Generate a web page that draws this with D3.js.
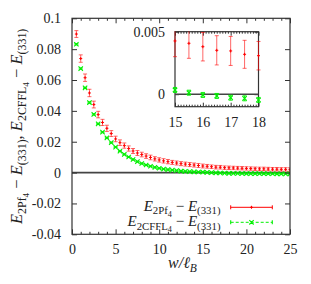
<!DOCTYPE html>
<html><head><meta charset="utf-8">
<script src="https://cdn.jsdelivr.net/npm/d3@7"></script>
<style>
html,body{margin:0;padding:0;background:#fff;}
svg{display:block;}
</style></head><body>
<svg id="chart" width="311" height="284"></svg>
<script>
// ---------------- data ----------------
const wValues = [0.5,1,1.5,2,2.5,3,3.5,4,4.5,5,5.5,6,6.5,7,7.5,8,8.5,9,9.5,10,
  10.5,11,11.5,12,12.5,13,13.5,14,14.5,15,15.5,16,16.5,17,17.5,18,18.5,19,19.5,20,
  20.5,21,21.5,22,22.5,23,23.5,24,24.5,25];
const redValues = [0.0898,0.0739,0.0615,0.0516,0.0441,0.0376,0.0325,0.0287,0.0253,0.0218,
  0.0194,0.0175,0.0156,0.0140,0.0127,0.0117,0.0107,0.0098,0.0089,0.0082,
  0.0076,0.0071,0.0066,0.0062,0.0058,0.0055,0.0052,0.0049,0.0046,0.00426,
  0.00407,0.0038,0.00351,0.00346,0.00319,0.00308,0.0030,0.0029,0.0028,0.0027,
  0.0026,0.0025,0.0024,0.0024,0.0023,0.0022,0.0022,0.0021,0.0021,0.0020];
const redErrors = [0.0022,0.0024,0.0024,0.0024,0.0022,0.0021,
  0.0020,0.0020,0.0019,0.0018,0.0018,0.0017,
  0.0017,0.0016,0.0016,0.0015,0.0015,0.0015,0.0014,0.0014,
  0.0014,0.0014,0.0013,0.0013,0.0013,0.0013,0.0013,0.0013,0.0013,0.00126,
  0.0012,0.00114,0.00117,0.00116,0.00112,0.00114,0.0011,0.0011,0.0011,0.0011,
  0.0011,0.0011,0.0011,0.0011,0.0011,0.0011,0.0011,0.0011,0.0011,0.0011];
const greenValues = [0.0832,0.0674,0.0549,0.0454,0.0377,0.0316,0.0262,0.0225,0.0194,0.0165,
  0.0139,0.0118,0.0101,0.0085,0.0071,0.0059,0.0049,0.0041,0.0034,0.0028,
  0.0023,0.0019,0.0016,0.0013,0.0010,0.0008,0.0006,0.0005,0.0004,0.00034,
  0.00012,-0.00006,-0.00014,-0.00028,-0.00033,-0.00046,-0.0005,-0.00055,-0.0006,-0.00062,
  -0.00065,-0.00067,-0.0007,-0.00072,-0.00074,-0.00076,-0.00078,-0.0008,-0.00081,-0.00082];
const greenErrors = [0.0004,0.0004,0.0004,0.0004,0.0004,0.00035,0.00035,0.00035,0.0003,0.0003,
  0.0003,0.0003,0.0003,0.0003,0.0003,0.00025,0.00025,0.00025,0.00025,0.00025,
  0.00025,0.00025,0.00025,0.00025,0.00025,0.0002,0.0002,0.0002,0.0002,0.0002,
  0.0002,0.0002,0.0002,0.0002,0.0002,0.0002,0.0002,0.0002,0.0002,0.0002,
  0.0002,0.0002,0.0002,0.0002,0.0002,0.0002,0.0002,0.0002,0.0002,0.0002];

const xTickValues = [0,5,10,15,20,25];
const xTickLabels = ["0","5","10","15","20","25"];
const yTickValues = [-0.04,-0.02,0,0.02,0.04,0.06,0.08,0.1];
const yTickLabels = ["-0.04","-0.02","0","0.02","0.04","0.06","0.08","0.1"];
const insetXTickValues = [15,16,17,18];
const insetXTickLabels = ["15","16","17","18"];
const insetYTickValues = [0,0.005];
const insetYTickLabels = ["0","0.005"];

// ---------------- layout ----------------
const FONT = "'Liberation Serif'";
const svg = d3.select("#chart");
const M = {l:72, r:290, t:18.3, b:234.3};
const x = d3.scaleLinear().domain([0,25]).range([M.l,M.r]);
const y = d3.scaleLinear().domain([-0.04,0.1]).range([M.b,M.t]);
const I = {l:175, r:258.5, t:31.7, b:106.7};
const xi = d3.scaleLinear().domain([15,18]).range([I.l,I.r]);
const yi = d3.scaleLinear().domain([-0.001,0.005]).range([I.b,I.t]);

const AX = "#333";
const RED = "#ff0000", GREEN = "#00f000";

function styleAxis(g, fs){
  g.select(".domain").remove();
  g.attr("font-family",null).attr("font-size",null);
  g.selectAll(".tick line").attr("stroke",AX).attr("stroke-width",1);
  g.selectAll("text").attr("fill","#222").style("font-family",FONT).style("font-size",fs+"px");
}

function mathText(parent, xx, yy, parts, size, anchor){
  const t = parent.append("text").attr("x",xx).attr("y",yy)
    .attr("text-anchor",anchor).attr("fill","#222")
    .style("font-family",FONT).style("font-size",size+"px");
  let cur = 0;
  parts.forEach(p=>{
    const lvl = p.l||0;
    const off = [0,0.24,0.40][lvl]*size;
    const fs = [1,0.72,0.55][lvl]*size;
    const ts = t.append("tspan").attr("dy",off-cur).style("font-size",fs+"px").text(p.t);
    if(p.i) ts.style("font-style","italic");
    cur = off;
  });
  return t;
}
function fitMath(parent, xx, yy, parts, target, anchor, maxS){
  const probe = mathText(parent, xx, yy, parts, 15, anchor);
  const w = probe.node().getBBox().width;
  probe.remove();
  const s = Math.max(10, Math.min(maxS, 15*target/w));
  return mathText(parent, xx, yy, parts, s, anchor);
}

// clip paths
const defs = svg.append("defs");
defs.append("clipPath").attr("id","clipMain").append("rect")
  .attr("x",M.l).attr("y",M.t).attr("width",M.r-M.l).attr("height",M.b-M.t);
defs.append("clipPath").attr("id","clipInset").append("rect")
  .attr("x",I.l-4).attr("y",I.t-0.5).attr("width",I.r-I.l+8).attr("height",I.b-I.t+1);

// zero line main
svg.append("line").attr("x1",M.l).attr("x2",M.r).attr("y1",y(0)).attr("y2",y(0))
  .attr("stroke","#444").attr("stroke-width",1.6);

// ---------------- series drawing ----------------
function drawSeries(g, xs, ys, vals, errs, color, marker, opts){
  const dom = xs.domain();
  const pts = g.selectAll(null)
    .data(wValues.map((w,i)=>({w, v:vals[i], e:errs[i]})).filter(d=>d.w>=dom[0]-1e-9&&d.w<=dom[1]+1e-9))
    .enter().append("g");
  const cw = opts.cap;
  pts.append("line").attr("x1",d=>xs(d.w)).attr("x2",d=>xs(d.w))
    .attr("y1",d=>ys(d.v-d.e)).attr("y2",d=>ys(d.v+d.e))
    .attr("stroke",color).attr("stroke-opacity",opts.op).attr("stroke-width",1);
  [-1,1].forEach(s=>{
    pts.append("line").attr("x1",d=>xs(d.w)-cw).attr("x2",d=>xs(d.w)+cw)
      .attr("y1",d=>ys(d.v+s*d.e)).attr("y2",d=>ys(d.v+s*d.e))
      .attr("stroke",color).attr("stroke-opacity",opts.op).attr("stroke-width",1);
  });
  const m = opts.m;
  if(marker==="+"){
    pts.append("path").attr("d",d=>`M${xs(d.w)-m},${ys(d.v)}h${2*m}M${xs(d.w)},${ys(d.v)-m}v${2*m}`)
      .attr("stroke",color).attr("stroke-width",1);
  } else {
    pts.append("path").attr("d",d=>`M${xs(d.w)-m},${ys(d.v)-m}l${2*m},${2*m}M${xs(d.w)-m},${ys(d.v)+m}l${2*m},${-2*m}`)
      .attr("stroke",color).attr("stroke-width",1.1);
  }
}

const gMain = svg.append("g").attr("clip-path","url(#clipMain)");
drawSeries(gMain.append("g"), x, y, greenValues, greenErrors, GREEN, "x", {cap:2, op:0.9, m:2.2});
drawSeries(gMain.append("g"), x, y, redValues, redErrors, RED, "+", {cap:2, op:0.6, m:1.5});

// ---------------- main axes ----------------
const minorX = d3.range(0,26,1).filter(d=>d%5!==0);
svg.append("g").attr("transform",`translate(0,${M.b})`)
  .call(d3.axisBottom(x).tickValues(xTickValues).tickFormat((d,i)=>xTickLabels[i]).tickSizeInner(-5).tickSizeOuter(0).tickPadding(9.5))
  .call(g=>styleAxis(g,14));
svg.append("g").attr("transform",`translate(0,${M.b})`)
  .call(d3.axisBottom(x).tickValues(minorX).tickFormat("").tickSizeInner(-2.5).tickSizeOuter(0))
  .call(g=>styleAxis(g,14));
svg.append("g").attr("transform",`translate(0,${M.t})`)
  .call(d3.axisTop(x).tickValues(xTickValues).tickFormat("").tickSizeInner(-5).tickSizeOuter(0))
  .call(g=>styleAxis(g,14));
svg.append("g").attr("transform",`translate(0,${M.t})`)
  .call(d3.axisTop(x).tickValues(minorX).tickFormat("").tickSizeInner(-2.5).tickSizeOuter(0))
  .call(g=>styleAxis(g,14));
svg.append("g").attr("transform",`translate(${M.l},0)`)
  .call(d3.axisLeft(y).tickValues(yTickValues).tickFormat((d,i)=>yTickLabels[i]).tickSizeInner(-5).tickSizeOuter(0).tickPadding(11))
  .call(g=>styleAxis(g,14));
svg.append("g").attr("transform",`translate(${M.r},0)`)
  .call(d3.axisRight(y).tickValues(yTickValues).tickFormat("").tickSizeInner(-5).tickSizeOuter(0))
  .call(g=>styleAxis(g,14));
svg.append("rect").attr("x",M.l).attr("y",M.t).attr("width",M.r-M.l).attr("height",M.b-M.t)
  .attr("fill","none").attr("stroke",AX).attr("stroke-width",1.2);

// ---------------- inset ----------------
svg.append("rect").attr("x",I.l).attr("y",I.t).attr("width",I.r-I.l).attr("height",I.b-I.t)
  .attr("fill","none").attr("stroke",AX).attr("stroke-width",1.2);
const minorXi = d3.range(150,181,1).map(d=>d/10).filter(d=>Math.abs(d-Math.round(d))>1e-6);
svg.append("g").attr("transform",`translate(0,${I.b})`)
  .call(d3.axisBottom(xi).tickValues(insetXTickValues).tickFormat((d,i)=>insetXTickLabels[i]).tickSizeInner(-4).tickSizeOuter(0).tickPadding(10))
  .call(g=>styleAxis(g,14));
svg.append("g").attr("transform",`translate(0,${I.b})`)
  .call(d3.axisBottom(xi).tickValues(minorXi).tickFormat("").tickSizeInner(-2).tickSizeOuter(0))
  .call(g=>styleAxis(g,14));
svg.append("g").attr("transform",`translate(0,${I.t})`)
  .call(d3.axisTop(xi).tickValues(insetXTickValues).tickFormat("").tickSizeInner(-4).tickSizeOuter(0))
  .call(g=>styleAxis(g,14));
svg.append("g").attr("transform",`translate(0,${I.t})`)
  .call(d3.axisTop(xi).tickValues(minorXi).tickFormat("").tickSizeInner(-2).tickSizeOuter(0))
  .call(g=>styleAxis(g,14));
svg.append("g").attr("transform",`translate(${I.l},0)`)
  .call(d3.axisLeft(yi).tickValues(insetYTickValues).tickFormat((d,i)=>insetYTickLabels[i]).tickSizeInner(-4).tickSizeOuter(0).tickPadding(10))
  .call(g=>styleAxis(g,14));
svg.append("g").attr("transform",`translate(${I.r},0)`)
  .call(d3.axisRight(yi).tickValues(insetYTickValues).tickFormat("").tickSizeInner(-4).tickSizeOuter(0))
  .call(g=>styleAxis(g,14));
svg.append("line").attr("x1",I.l).attr("x2",I.r).attr("y1",yi(0)).attr("y2",yi(0))
  .attr("stroke","#444").attr("stroke-width",1.6);
const gIn = svg.append("g").attr("clip-path","url(#clipInset)");
drawSeries(gIn.append("g"), xi, yi, greenValues, greenErrors, GREEN, "x", {cap:2, op:0.9, m:2.2});
drawSeries(gIn.append("g"), xi, yi, redValues, redErrors, RED, "+", {cap:2, op:0.6, m:1.5});

// ---------------- legend ----------------
const leg1 = [{t:"E",i:1},{t:"2Pf",l:1},{t:"4",l:2},{t:" \u2212 "},{t:"E",i:1},{t:"(331)",l:1}];
const leg2 = [{t:"E",i:1},{t:"2CFFL",l:1},{t:"4",l:2},{t:" \u2212 "},{t:"E",i:1},{t:"(331)",l:1}];
const LS = 15;
mathText(svg, 220.5, 210.5, leg1, LS, "end");
mathText(svg, 220.5, 226, leg2, LS, "end");
const lx1 = 230.7, lx2 = 272.3, lxm = (lx1+lx2)/2;
svg.append("path").attr("d",`M${lx1},207.3H${lx2}M${lx1},205.3v4M${lx2},205.3v4M${lxm-1.5},207.3h3M${lxm},205.8v3`)
  .attr("stroke",RED).attr("stroke-width",1).attr("fill","none");
svg.append("line").attr("x1",lx1).attr("x2",lx2).attr("y1",222.3).attr("y2",222.3)
  .attr("stroke",GREEN).attr("stroke-width",1).attr("stroke-dasharray","3,2");
svg.append("path").attr("d",`M${lx1},220.3v4M${lx2},220.3v4M${lxm-2.2},220.1l4.4,4.4M${lxm-2.2},224.5l4.4,-4.4`)
  .attr("stroke",GREEN).attr("stroke-width",1.1).attr("fill","none");

// ---------------- axis titles ----------------
const ylParts = [{t:"E",i:1},{t:"2Pf",l:1},{t:"4",l:2},{t:" \u2212 "},{t:"E",i:1},{t:"(331)",l:1},{t:", "},
  {t:"E",i:1},{t:"2CFFL",l:1},{t:"4",l:2},{t:" \u2212 "},{t:"E",i:1},{t:"(331)",l:1}];
const yl = svg.append("g");
const ylt = fitMath(yl, 0, 0, ylParts, 197, "start", 17);
const ylbb = ylt.node().getBBox();
yl.attr("transform",`translate(22,${225 + ylbb.x}) rotate(-90)`);
fitMath(svg, 182.5, 268, [{t:"w",i:1},{t:"/\u2113",i:1},{t:"B",i:1,l:1}], 35, "middle", 16);
</script>
</body></html>
